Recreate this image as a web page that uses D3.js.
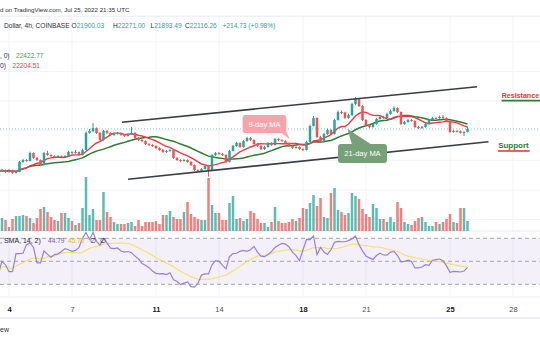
<!DOCTYPE html>
<html><head><meta charset="utf-8">
<script src="https://cdn.jsdelivr.net/npm/d3@7"></script>
<style>html,body{margin:0;padding:0;background:#fff;overflow:hidden}svg{display:block}</style>
</head><body>
<svg id="c" width="540" height="340"></svg>
<script>
// ---------- data ----------
const startTime = "2022-07-03T12:00:00Z";
const stepHours = 4;
const firstOpen = 19350;
const closes = [
19280,19340,19210,19340,19140,19210,19890,20020,19950,20490,
20160,20020,19680,20490,20360,20290,20220,20290,20220,20290,
20560,20490,20560,20360,20700,21850,21980,22180,21850,21370,
21980,21850,21710,21780,21850,21710,21640,21780,21850,21510,
21370,21300,21100,21030,20970,20830,20700,20560,20630,20700,
20160,20020,19950,20020,19890,19680,19340,19280,19410,19620,
19340,20360,20490,20430,20360,19890,20630,20970,21170,20900,
21300,21510,21370,21100,20970,20760,20900,21170,21030,21440,
21370,21300,21170,20970,20830,20900,20760,20700,21240,22320,
22860,21570,21300,21780,22050,21780,22720,23260,23230,22860,
23060,23800,24140,23670,22720,22390,22250,22450,22790,22930,
22860,23130,23330,23530,23260,22450,22590,22720,22660,22250,
22180,22250,22450,22720,22860,22850,22930,22860,22660,21910,
21980,21960,21850,21900.03,22116.26];
const highs = [
19420,19400,19380,19420,19370,19290,19960,20100,20080,20580,
20530,20220,20060,20560,20640,20420,20340,20350,20330,20360,
20640,20620,20700,20600,20780,21950,22100,22520,22220,21900,
22060,22050,21900,21850,21920,21880,21760,21850,22250,21900,
21560,21440,21350,21160,21090,21020,20880,20760,20700,20780,
20740,20220,20080,20100,20070,19940,19720,19400,19480,19690,
19700,20420,20560,20560,20500,20400,20700,21050,21240,21220,
21380,21600,21560,21420,21150,21020,20980,21240,21220,21520,
21500,21420,21350,21220,21020,20980,20950,20820,21320,22420,
22990,22900,21650,21860,22140,22100,22800,23380,23360,23280,
23150,23900,24280,24200,23720,22780,22450,22520,22860,23010,
23000,23220,23420,23650,23580,23300,22660,22790,22780,22700,
22310,22330,22520,22800,22940,22950,23020,23060,22900,22700,
22060,22040,22010,21960,22271.00];
const lows = [
19230,19200,19150,19160,19080,19100,19190,19850,19900,19920,
20100,19960,19600,19640,20300,20220,20150,20170,20180,20190,
20260,20430,20450,20300,20330,20680,21800,21900,21780,21250,
21320,21780,21650,21640,21740,21660,21580,21600,21740,21450,
21300,21240,21030,20970,20900,20760,20640,20500,20500,20580,
20100,19960,19880,19900,19830,19620,19270,19220,19240,19380,
18900,19300,20300,20370,20300,19820,19850,20600,20920,20840,
20860,21260,21300,21040,20900,20700,20700,20860,20970,21000,
21300,21240,21100,20900,20770,20780,20700,20620,20660,21200,
22280,21500,21200,21250,21720,21700,21740,22680,23130,22780,
22800,23000,23750,23600,22640,22300,22180,22200,22400,22740,
22800,22820,23080,23280,23190,22380,22400,22540,22600,22180,
22110,22120,22200,22400,22680,22790,22800,22800,22600,21850,
21860,21890,21800,21650,21893.49];
const volumes = [
1100,1300,1100,400,1200,1500,1500,1600,1500,1300,
800,1300,2200,2400,1900,1400,1100,1000,1800,1800,
1300,1000,600,800,2300,5400,1600,2200,1100,1100,
3900,1900,1400,900,700,700,700,800,900,500,
1100,500,900,900,900,1000,700,1600,1600,2000,
1400,1200,1200,1900,2900,1700,1400,1200,1100,1100,
5300,2600,1800,1800,1100,1100,2800,3500,1200,1300,
1000,1200,2000,1800,1200,800,800,400,900,2400,
1000,800,800,900,1200,1000,1300,2300,2200,2800,
3600,2500,3300,1400,1300,3800,4300,2100,1900,1600,
1800,3800,3500,3200,2200,1700,1400,2700,2300,1200,
1200,900,1400,900,2900,2300,900,700,600,1000,
1300,1400,900,500,500,900,700,900,1200,1700,
900,800,2300,2300,1000];
const rsiValues = [
40,50,47,41,41,56.7,56.7,57,64.5,66,
62,48.6,48.6,59,56,53.5,55.8,56.5,58.5,61,
60,58.7,59.5,62,70,75,69,75,67.4,64,
70,66,61.5,61,61.6,59,58,58.5,57.5,54.5,
52,48,46.5,44.5,41.5,39.5,39,39.2,38.5,40,
34,32.6,29.7,31,32,28,27.5,31,38,39,
39,47,50.5,50,46.5,43.4,54,56.7,57,58.7,
59.5,58.7,60,63,58,54.5,54,56,58.5,62,
64,65.5,65,62.5,58,55,50.5,60,69,68.8,
72,55.8,62,58,56,60,66.5,67.3,67,67,
68,69.5,72,64.5,59,54.5,53,51.6,55,57,
55.5,55.3,58,58.5,55,49.5,50,51,49.8,44.2,
44.2,45,47,46.5,50.9,51.5,52,50.5,46,40.5,
41.3,41,40.7,41.5,44.79];
const dayTicks = ["2022-07-04","2022-07-07","2022-07-11","2022-07-14","2022-07-18","2022-07-21","2022-07-25","2022-07-28"];
const boldDays = [4, 11, 18, 25];
const priceGrid = [16000,18000,20000,22000,24000,26000,28000];
const rsiLevels = [70, 50, 30];
const lastPrice = 22116.26;
const maFastLen = 9, maSlowLen = 21, rsiMaLen = 14;
const legendMaSlow = "22422.77", legendMaFast = "22204.51";
const legendRsi = "44.79", legendRsiMa = "45.70";
const headerLine1 = "d on TradingView.com, Jul 25, 2022 21:35 UTC";
const symbolText = "Dollar, 4h, COINBASE";
const ohlcLabels = [["O","21900.03"],["H","22271.00"],["L","21893.49"],["C","22116.26"]];
const changeText = "+214.73 (+0.98%)";
const channelUpper = [["2022-07-09T09:00:00Z",22570],["2022-07-26T07:00:00Z",24970]];
const channelLower = [["2022-07-09T16:00:00Z",18720],["2022-07-26T20:00:00Z",21257]];
const callout9 = {text:"9-day MA", from:"2022-07-15T03:00:00Z", to:"2022-07-17T05:00:00Z", top:23060, bottom:21840,
  tip:["2022-07-17T09:00:00Z",21420], base:["2022-07-16T22:00:00Z","2022-07-17T05:00:00Z"]};
const callout21 = {text:"21-day MA", from:"2022-07-19T16:00:00Z", to:"2022-07-22T00:00:00Z", top:21100, bottom:19820,
  tip:["2022-07-20T03:00:00Z",22115], base:["2022-07-20T08:00:00Z","2022-07-21T07:00:00Z"]};
const resistanceLabel = {text:"Resistance", at:["2022-07-27T11:00:00Z",24180], line:[["2022-07-27T11:00:00Z",24030],["2022-07-29T12:00:00Z",24030]]};
const supportLabel = {text:"Support", at:["2022-07-27T07:00:00Z",20800], line:[["2022-07-27T07:00:00Z",20630],["2022-07-28T19:00:00Z",20630]]};

// ---------- derived ----------
const t0 = Date.parse(startTime);
const candles = closes.map((c,i)=>({
  t: new Date(t0 + i*stepHours*3600e3),
  o: i===0 ? firstOpen : closes[i-1], c, h: highs[i], l: lows[i], v: volumes[i], rsi: rsiValues[i]
}));
function sma(arr,n){return arr.map((_,i)=>d3.mean(arr.slice(Math.max(0,i-n+1),i+1)));}
const maFast = sma(closes, maFastLen), maSlow = sma(closes, maSlowLen), rsiMa = sma(rsiValues, rsiMaLen);

const UP="#26a69a", DOWN="#ef5350", FONT="'Liberation Sans', Arial, sans-serif";
const svg = d3.select("#c");
svg.append("rect").attr("width",540).attr("height",340).attr("fill","#fff");

const x = d3.scaleUtc().domain([new Date("2022-07-04T00:00:00Z"), new Date("2022-07-25T00:00:00Z")]).range([9,450]);
const y = d3.scaleLinear().domain([16000,28000]).range([219.5,41.9]);
const yv = d3.scaleLinear().domain([0,5900]).range([231,172]);
const yr = d3.scaleLinear().domain([30,70]).range([284.3,238.3]);
const P = (p)=>[x(new Date(p[0])), y(p[1])];

const defs = svg.append("defs");
defs.append("clipPath").attr("id","main").append("rect").attr("x",0).attr("y",16).attr("width",540).attr("height",215);
defs.append("clipPath").attr("id","rsi").append("rect").attr("x",0).attr("y",231).attr("width",540).attr("height",66);

// grid
const tickDates = dayTicks.map(d=>new Date(d+"T00:00:00Z"));
svg.append("g").selectAll("line").data(tickDates).join("line")
  .attr("x1",d=>x(d)).attr("x2",d=>x(d)).attr("y1",16).attr("y2",297)
  .attr("stroke","#f0f3fa").attr("stroke-width",1);
svg.append("g").attr("clip-path","url(#main)").selectAll("line").data(priceGrid).join("line")
  .attr("x1",0).attr("x2",540).attr("y1",d=>y(d)).attr("y2",d=>y(d))
  .attr("stroke","#f0f3fa");

svg.append("line").attr("x1",0).attr("x2",540).attr("y1",16).attr("y2",16).attr("stroke","#e0e3eb");
svg.append("line").attr("x1",0).attr("x2",540).attr("y1",231).attr("y2",231).attr("stroke","#e6e8ee");
svg.append("line").attr("x1",0).attr("x2",540).attr("y1",297).attr("y2",297).attr("stroke","#eceef3");
svg.append("rect").attr("x",0).attr("y",317).attr("width",540).attr("height",2).attr("fill","#eceef3");

// volume
const bw = 2.5;
svg.append("g").attr("clip-path","url(#main)").selectAll("rect").data(candles).join("rect")
  .attr("x",d=>x(d.t)-bw/2).attr("width",bw)
  .attr("y",d=>yv(d.v)).attr("height",d=>yv(0)-yv(d.v))
  .attr("fill",d=>d.c>=d.o?UP:DOWN).attr("fill-opacity",0.75);

const gm = svg.append("g").attr("clip-path","url(#main)");
const line = d3.line().x((d,i)=>x(candles[i].t)).y(d=>y(d));
gm.append("path").attr("d",line(maSlow)).attr("fill","none").attr("stroke","#2e7d32").attr("stroke-width",1.5);
gm.append("path").attr("d",line(maFast)).attr("fill","none").attr("stroke","#f23645").attr("stroke-width",1.4);

const cg = gm.append("g");
cg.selectAll("line").data(candles).join("line")
  .attr("x1",d=>x(d.t)).attr("x2",d=>x(d.t)).attr("y1",d=>y(d.h)).attr("y2",d=>y(d.l))
  .attr("stroke",d=>d.c>=d.o?UP:DOWN).attr("stroke-width",1);
cg.selectAll("rect").data(candles).join("rect")
  .attr("x",d=>x(d.t)-bw/2).attr("width",bw)
  .attr("y",d=>y(Math.max(d.o,d.c))).attr("height",d=>Math.max(1,Math.abs(y(d.o)-y(d.c))))
  .attr("fill",d=>d.c>=d.o?UP:DOWN);

gm.append("line").attr("x1",0).attr("x2",540).attr("y1",y(lastPrice)).attr("y2",y(lastPrice))
  .attr("stroke",UP).attr("stroke-opacity",0.6).attr("stroke-dasharray","1,2");

[channelUpper, channelLower].forEach(seg=>{
  const a=P(seg[0]), b=P(seg[1]);
  gm.append("line").attr("x1",a[0]).attr("y1",a[1]).attr("x2",b[0]).attr("y2",b[1])
    .attr("stroke","#3a3d45").attr("stroke-width",1.6);
});

function callout(c, fill){
  const x1=x(new Date(c.from)), x2=x(new Date(c.to)), y1=y(c.top), y2=y(c.bottom);
  const tip=P(c.tip);
  const b1=x(new Date(c.base[0])), b2=x(new Date(c.base[1]));
  const edgeY = tip[1] < y1 ? y1+1 : y2-1;
  gm.append("path").attr("d",`M${b1},${edgeY}L${tip[0]},${tip[1]}L${b2},${edgeY}Z`).attr("fill",fill);
  gm.append("rect").attr("x",x1).attr("y",y1).attr("width",x2-x1).attr("height",y2-y1).attr("rx",3).attr("fill",fill);
  gm.append("text").attr("x",(x1+x2)/2).attr("y",(y1+y2)/2).attr("dy","0.35em").attr("text-anchor","middle")
    .attr("font-family",FONT).attr("font-size",7.5).attr("fill","#fff").text(c.text);
}
callout(callout9, "#f7a3aa");
callout(callout21, "#76a077");

function sideLabel(L, color, lineColor, size){
  const a=P(L.at);
  svg.append("text").attr("x",a[0]).attr("y",a[1]).attr("font-family",FONT).attr("font-weight","bold")
    .attr("font-size",size).attr("fill",color).text(L.text);
  const p=P(L.line[0]), q=P(L.line[1]);
  svg.append("line").attr("x1",p[0]).attr("x2",q[0]).attr("y1",p[1]).attr("y2",q[1]).attr("stroke",lineColor).attr("stroke-width",1.6);
}
sideLabel(resistanceLabel, "#e53935", "#2e7d32", 7.1);
sideLabel(supportLabel, "#2e7d32", "#e53935", 8);

// RSI pane
const gr = svg.append("g").attr("clip-path","url(#rsi)");
gr.append("rect").attr("x",0).attr("width",540).attr("y",yr(70)).attr("height",yr(30)-yr(70)).attr("fill","#7e57c2").attr("fill-opacity",0.09);
gr.selectAll("line.lv").data(rsiLevels).join("line").attr("class","lv")
  .attr("x1",0).attr("x2",540).attr("y1",d=>yr(d)).attr("y2",d=>yr(d))
  .attr("stroke","#a3a6af").attr("stroke-dasharray","4,3").attr("stroke-width",1);
const rline = d3.line().x((d,i)=>x(candles[i].t)).y(d=>yr(d));
svg.append("path").attr("d",rline(rsiMa)).attr("fill","none").attr("stroke","#f3e06a").attr("stroke-width",1.1);
svg.append("path").attr("d",rline(rsiValues)).attr("fill","none").attr("stroke","#9a7fd6").attr("stroke-width",1.2);

// time axis
const ax = svg.append("g").attr("transform","translate(0,307)")
  .call(d3.axisBottom(x).tickValues(tickDates).tickFormat(d3.utcFormat("%-d")).tickSize(0).tickPadding(0));
ax.select(".domain").remove();
ax.selectAll("text").attr("font-family",FONT).attr("font-size",7.5)
  .attr("font-weight",d=>boldDays.includes(d.getUTCDate())?"bold":"normal")
  .attr("fill",d=>boldDays.includes(d.getUTCDate())?"#131722":"#4a4d57");

// header texts
function txt(xx,yy,s,color,size){
  return svg.append("text").attr("x",xx).attr("y",yy).attr("font-family",FONT).attr("font-size",size||6.6)
    .attr("fill",color).text(s);
}
svg.append("rect").attr("x",0).attr("y",0).attr("width",540).attr("height",15.5).attr("fill","#fff");
txt(0,11.5,headerLine1,"#2a2e39",6.2);
txt(4,27.5,symbolText,"#2a2e39");
const ohlcX=[71.5,113,150.5,185];
ohlcLabels.forEach((o,i)=>{
  const t=txt(ohlcX[i],27.5,"","#2a2e39");
  t.append("tspan").text(o[0]);
  t.append("tspan").attr("fill",UP).text(o[1]);
});
txt(222.5,27.5,changeText,UP);
txt(0,57.5,", 0)","#2a2e39");
txt(16,57.5,legendMaSlow,"#43a047");
txt(0,67.8,"0)","#2a2e39");
txt(12.5,67.8,legendMaFast,"#f23645");
txt(0,243,", SMA, 14, 2)","#2a2e39",7);
txt(48,243,legendRsi,"#7e57c2");
txt(68,243,legendRsiMa,"#e8c000");
txt(90,243,"∅","#2a2e39");
txt(100,243,"∅","#2a2e39");
txt(0,332,"ew","#2a2e39",7);
</script>
</body></html>
